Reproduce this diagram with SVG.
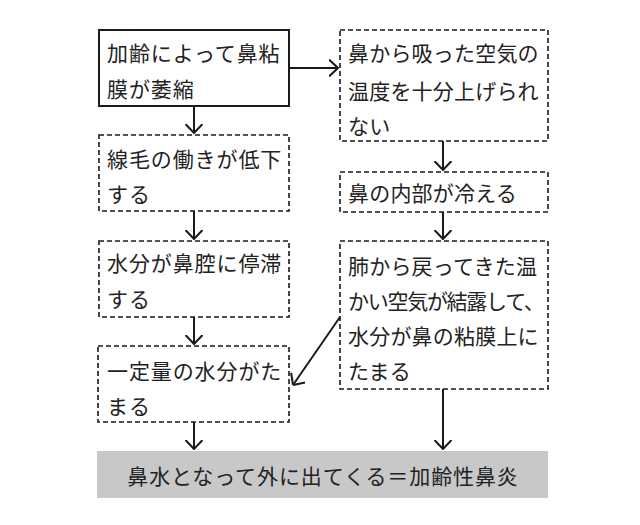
<svg xmlns="http://www.w3.org/2000/svg" width="640" height="525" viewBox="0 0 640 525">
<defs>
<marker id="ah" viewBox="0 0 10 18" refX="9.5" refY="9" markerWidth="10" markerHeight="18" markerUnits="userSpaceOnUse" orient="auto">
<path d="M0.5,0.5 L9.5,9 L0.5,17.5" fill="none" stroke="#1a1a1a" stroke-width="2"/>
</marker>
</defs>
<style>
.solid{fill:#fff;stroke:#1a1a1a;stroke-width:2}
.dash{fill:#fff;stroke:#1a1a1a;stroke-width:1.6;stroke-dasharray:5 3}
.t{font-family:"Noto Sans CJK JP","Noto Sans CJK SC",sans-serif;font-size:21px;letter-spacing:0.9px;fill:#222;dominant-baseline:central}
.r{letter-spacing:0.2px}
.c{stroke:#1a1a1a;stroke-width:2;fill:none;marker-end:url(#ah)}
</style>
<rect width="640" height="525" fill="#fff"/>
<g id="n1">
<rect class="solid" x="99" y="30" width="190" height="76"/>
<text class="t" x="107" y="52">加齢によって鼻粘</text>
<text class="t" x="107" y="88">膜が萎縮</text>
</g>
<g id="n2">
<rect class="dash" x="340" y="30" width="208" height="111"/>
<text class="t r" x="348" y="52">鼻から吸った空気の</text>
<text class="t r" x="348" y="90">温度を十分上げられ</text>
<text class="t r" x="348" y="125">ない</text>
</g>
<g id="n3">
<rect class="dash" x="99" y="135" width="190" height="76"/>
<text class="t" x="107" y="158">線毛の働きが低下</text>
<text class="t" x="107" y="193">する</text>
</g>
<g id="n4">
<rect class="dash" x="99" y="241" width="190" height="76"/>
<text class="t" x="107" y="262">水分が鼻腔に停滞</text>
<text class="t" x="107" y="298">する</text>
</g>
<g id="n5">
<rect class="dash" x="98" y="346" width="191" height="76"/>
<text class="t" x="107" y="370">一定量の水分がた</text>
<text class="t" x="107" y="405">まる</text>
</g>
<g id="n6">
<rect class="dash" x="340" y="172" width="208" height="40"/>
<text class="t r" x="348" y="192">鼻の内部が冷える</text>
</g>
<g id="n7">
<rect class="dash" x="340" y="241" width="208" height="148"/>
<text class="t r" x="348" y="265">肺から戻ってきた温</text>
<text class="t r" x="348" y="300" textLength="197" lengthAdjust="spacing">かい空気が結露して、</text>
<text class="t r" x="348" y="335">水分が鼻の粘膜上に</text>
<text class="t r" x="348" y="370">たまる</text>
</g>
<g id="n8">
<rect x="97" y="451" width="451" height="47" fill="#c8c8c8"/>
<text class="t" x="323" y="475" text-anchor="middle">鼻水となって外に出てくる＝加齢性鼻炎</text>
</g>
<g id="connectors">
<line class="c" x1="289" y1="68" x2="338" y2="68"/>
<line class="c" x1="194" y1="106" x2="194" y2="133"/>
<line class="c" x1="194" y1="211" x2="194" y2="239"/>
<line class="c" x1="194" y1="317" x2="194" y2="344"/>
<line class="c" x1="194" y1="422" x2="194" y2="449"/>
<line class="c" x1="443" y1="141" x2="443" y2="170"/>
<line class="c" x1="443" y1="212" x2="443" y2="239"/>
<line class="c" x1="340" y1="317" x2="293" y2="385"/>
<line class="c" x1="443" y1="389" x2="443" y2="449"/>
</g>
</svg>
